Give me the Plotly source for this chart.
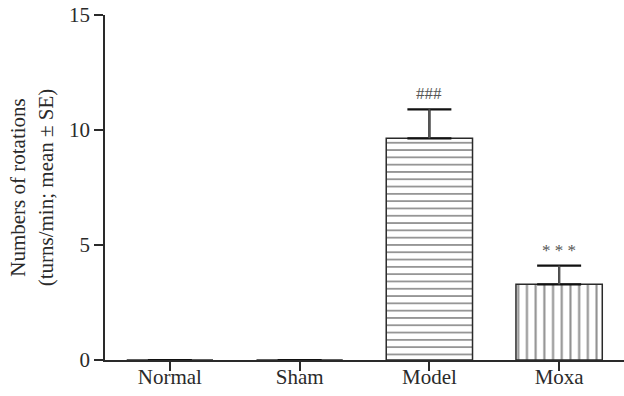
import plotly.graph_objects as go

categories = ["Normal", "Sham", "Model", "Moxa"]
means = [0, 0, 9.64, 3.29]
se = [0, 0, 1.26, 0.81]
marks = ["", "", "###", "* * *"]
shapes = ["", "", "-", "|"]
sizes = [8, 8, 7.3, 8.7]

FONT = "Liberation Serif"
INK = "#2a2a2a"
H = 396
TOP = 15
AXIS_Y = 360          # pixel row of the x axis line
LABEL_AXIS_Y = 362    # pixel row of the label-only axis

plot_h = H - TOP
dom0 = (H - AXIS_Y) / plot_h
lab_pos = (H - LABEL_AXIS_Y) / plot_h

fig = go.Figure()
fig.add_trace(go.Bar(
    x=categories, y=means, width=0.665,
    marker=dict(color="white", line=dict(color=INK, width=1.5),
                pattern=dict(shape=shapes, size=sizes, solidity=0.24,
                             fgcolor="#222222", bgcolor="white", fillmode="overlay")),
    error_y=dict(type="data", symmetric=False, array=se, arrayminus=[0]*4,
                 color="#111111", thickness=2.2, width=22),
    showlegend=False, hoverinfo="skip",
))
# gray stem of the error bars (cap stays black)
fig.add_trace(go.Bar(
    x=categories, y=means, width=0.665,
    marker=dict(color="rgba(0,0,0,0)", line=dict(width=0)),
    error_y=dict(type="data", symmetric=False, array=se, arrayminus=[0]*4,
                 color="#555555", thickness=2, width=0),
    showlegend=False, hoverinfo="skip",
))
# invisible trace that carries the category labels on the label axis
fig.add_trace(go.Scatter(x=categories, y=[0]*4, xaxis="x2", mode="markers",
                         marker=dict(opacity=0), showlegend=False, hoverinfo="skip"))

for c, m, s, t in zip(categories, means, se, marks):
    if t:
        fig.add_annotation(x=c, y=m + s, text=t, showarrow=False, yanchor="bottom",
                           yshift=4, font=dict(family=FONT, size=17, color="#555555"))

fig.update_layout(
    width=624, height=H,
    margin=dict(l=105, r=0, t=TOP, b=0),
    paper_bgcolor="white", plot_bgcolor="white",
    barmode="overlay",
    font=dict(family=FONT, size=21, color=INK),
    xaxis=dict(range=[-0.5, 3.5], showline=True, linecolor=INK, linewidth=1.5,
               ticks="outside", ticklen=9, tickwidth=1.5, tickcolor=INK,
               showticklabels=False, showgrid=False, zeroline=False,
               anchor="y", automargin=False),
    xaxis2=dict(range=[-0.5, 3.5], overlaying="x", anchor="free", position=lab_pos,
                showline=False, ticks="", showgrid=False, zeroline=False,
                tickfont=dict(family=FONT, size=21, color=INK), automargin=False),
    yaxis=dict(range=[0, 15], domain=[dom0, 1], tickvals=[0, 5, 10, 15],
               showline=True, linecolor=INK, linewidth=1.5,
               ticks="outside", ticklen=9, tickwidth=1.5, tickcolor=INK,
               showgrid=False, zeroline=False, automargin=False,
               tickfont=dict(family=FONT, size=21, color=INK),
               title=dict(text="Numbers of rotations<br>(turns/min; mean ± SE)",
                          font=dict(family=FONT, size=21, color=INK), standoff=10)),
)

fig.write_html("out.html", config={"displayModeBar": False},
               post_script="document.body.style.margin='0';")
